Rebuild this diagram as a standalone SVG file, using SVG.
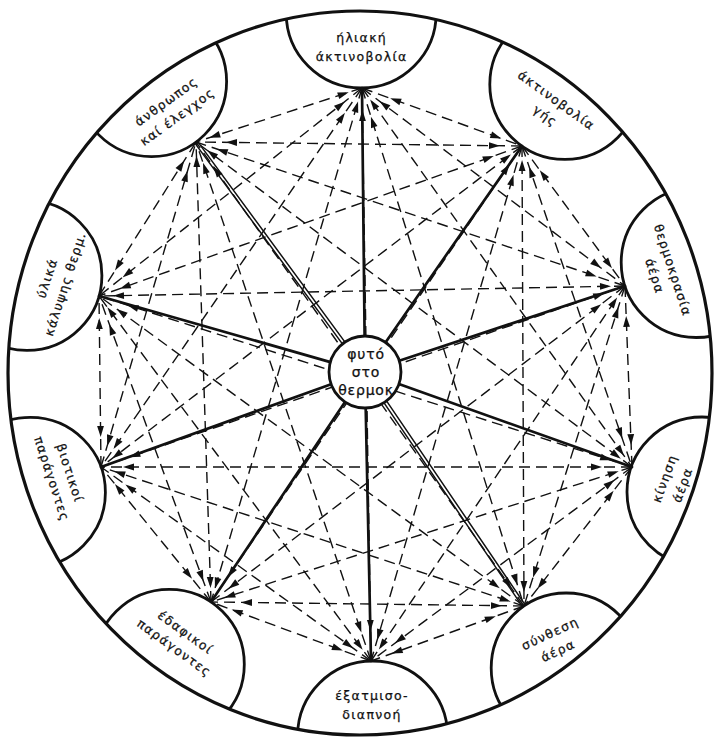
<svg xmlns="http://www.w3.org/2000/svg" width="714" height="738" viewBox="0 0 714 738">
<style>
.bg{fill:#fff}
.outer{fill:none;stroke:#111;stroke-width:3.2}
.node{fill:#fff;stroke:#111;stroke-width:2.8}
.lbl{font-family:"DejaVu Sans","Noto Sans",sans-serif;font-size:12.5px;letter-spacing:1.3px;fill:#111;stroke:#111;stroke-width:0.25;text-anchor:middle}
.ctr{font-family:"DejaVu Sans","Noto Sans",sans-serif;font-size:14px;letter-spacing:0.8px;fill:#111;stroke:#111;stroke-width:0.25;text-anchor:middle}
.dash line{stroke:#111;stroke-width:1.4;stroke-dasharray:11 6;fill:none}
.x{marker-start:url(#m1);marker-end:url(#m1)}
.y{marker-start:url(#m2);marker-end:url(#m3)}
.z{marker-start:url(#m3);marker-end:url(#m2)}
.solid line{stroke:#111;stroke-width:2.7;stroke-linecap:round}
.solid line.thin{stroke-width:1.5}
</style>
<defs>
<clipPath id="clip"><ellipse cx="360" cy="373" rx="352" ry="362"/></clipPath>
<marker id="m1" markerUnits="userSpaceOnUse" orient="auto-start-reverse" refX="14" refY="0" markerWidth="20" markerHeight="20" overflow="visible"><path d="M0,0 L-11,-3.4 L-11,3.4 Z" fill="#111"/></marker>
<marker id="m2" markerUnits="userSpaceOnUse" orient="auto-start-reverse" refX="22" refY="0" markerWidth="20" markerHeight="20" overflow="visible"><path d="M0,0 L-11,-3.4 L-11,3.4 Z" fill="#111"/></marker>
<marker id="m3" markerUnits="userSpaceOnUse" orient="auto-start-reverse" refX="30" refY="0" markerWidth="20" markerHeight="20" overflow="visible"><path d="M0,0 L-11,-3.4 L-11,3.4 Z" fill="#111"/></marker>
</defs>
<rect class="bg" x="0" y="0" width="714" height="738"/>

<g id="n0"><circle class="node" cx="361.2" cy="13" r="75" clip-path="url(#clip)"/>
<text class="lbl" transform="translate(361.6,47)"><tspan x="0" y="-5">ήλιακή</tspan><tspan x="0" y="14">άκτινοβολία</tspan></text></g>
<g id="n1"><circle class="node" cx="564.8" cy="84.4" r="75" clip-path="url(#clip)"/>
<text class="lbl" transform="translate(551,108) rotate(36)"><tspan x="0" y="-5">άκτινοβολία</tspan><tspan x="0" y="14">γής</tspan></text></g>
<g id="n2"><circle class="node" cx="696.2" cy="262.5" r="75" clip-path="url(#clip)"/>
<text class="lbl" transform="translate(663.9,273.2) rotate(72)"><tspan x="0" y="-5">θερμοκρασία</tspan><tspan x="0" y="14">άέρα</tspan></text></g>
<g id="n3"><circle class="node" cx="702" cy="492" r="75" clip-path="url(#clip)"/>
<text class="lbl" transform="translate(673.5,481.7) rotate(-70)"><tspan x="0" y="-5">κίνηση</tspan><tspan x="0" y="14">άέρα</tspan></text></g>
<g id="n4"><circle class="node" cx="566.2" cy="668" r="75" clip-path="url(#clip)"/>
<text class="lbl" transform="translate(554,642) rotate(-25)"><tspan x="0" y="-5">σύνθεση</tspan><tspan x="0" y="14">άέρα</tspan></text></g>
<g id="n5"><circle class="node" cx="372.6" cy="736" r="75" clip-path="url(#clip)"/>
<text class="lbl" transform="translate(372,705)"><tspan x="0" y="-5">έξατμισο-</tspan><tspan x="0" y="14">διαπνοή</tspan></text></g>
<g id="n6"><circle class="node" cx="169.3" cy="664.3" r="75" clip-path="url(#clip)"/>
<text class="lbl" transform="translate(180,640) rotate(36)"><tspan x="0" y="-5">έδαφικοί</tspan><tspan x="0" y="14">παράγοντες</tspan></text></g>
<g id="n7"><circle class="node" cx="30.4" cy="492.4" r="75" clip-path="url(#clip)"/>
<text class="lbl" transform="translate(61,476) rotate(72)"><tspan x="0" y="-5">βιοτικοί</tspan><tspan x="0" y="14">παράγοντες</tspan></text></g>
<g id="n8"><circle class="node" cx="26.9" cy="275.4" r="75" clip-path="url(#clip)"/>
<text class="lbl" transform="translate(56,281) rotate(-72)"><tspan x="0" y="-5">ύλικά</tspan><tspan x="0" y="14">κάλυψης θερμ.</tspan></text></g>
<g id="n9"><circle class="node" cx="151.6" cy="81.6" r="75" clip-path="url(#clip)"/>
<text class="lbl" transform="translate(171.7,109) rotate(-36)"><tspan x="0" y="-5">άνθρωπος</tspan><tspan x="0" y="14">καί έλεγχος</tspan></text></g>

<ellipse class="outer" cx="360" cy="373" rx="352" ry="362"/>

<g id="connectors">
<g class="dash">
<line class="z" x1="362" y1="88" x2="522" y2="146"/>
<line class="y" x1="362" y1="88" x2="625" y2="286"/>
<line class="x" x1="362" y1="88" x2="632" y2="467"/>
<line class="z" x1="362" y1="88" x2="524" y2="606"/>
<line class="y" x1="362" y1="88" x2="371" y2="661"/>
<line class="x" x1="362" y1="88" x2="211" y2="602"/>
<line class="z" x1="362" y1="88" x2="101" y2="467"/>
<line class="y" x1="362" y1="88" x2="99" y2="296"/>
<line class="x" x1="362" y1="88" x2="196" y2="142"/>
<line class="z" x1="522" y1="146" x2="625" y2="286"/>
<line class="y" x1="522" y1="146" x2="632" y2="467"/>
<line class="x" x1="522" y1="146" x2="524" y2="606"/>
<line class="z" x1="522" y1="146" x2="371" y2="661"/>
<line class="y" x1="522" y1="146" x2="211" y2="602"/>
<line class="x" x1="522" y1="146" x2="101" y2="467"/>
<line class="z" x1="522" y1="146" x2="99" y2="296"/>
<line class="y" x1="522" y1="146" x2="196" y2="142"/>
<line class="z" x1="625" y1="286" x2="632" y2="467"/>
<line class="y" x1="625" y1="286" x2="524" y2="606"/>
<line class="x" x1="625" y1="286" x2="371" y2="661"/>
<line class="z" x1="625" y1="286" x2="211" y2="602"/>
<line class="y" x1="625" y1="286" x2="101" y2="467"/>
<line class="x" x1="625" y1="286" x2="99" y2="296"/>
<line class="z" x1="625" y1="286" x2="196" y2="142"/>
<line class="z" x1="632" y1="467" x2="524" y2="606"/>
<line class="y" x1="632" y1="467" x2="371" y2="661"/>
<line class="x" x1="632" y1="467" x2="211" y2="602"/>
<line class="z" x1="632" y1="467" x2="101" y2="467"/>
<line class="y" x1="632" y1="467" x2="99" y2="296"/>
<line class="x" x1="632" y1="467" x2="196" y2="142"/>
<line class="z" x1="524" y1="606" x2="371" y2="661"/>
<line class="y" x1="524" y1="606" x2="211" y2="602"/>
<line class="x" x1="524" y1="606" x2="101" y2="467"/>
<line class="z" x1="524" y1="606" x2="99" y2="296"/>
<line class="y" x1="524" y1="606" x2="196" y2="142"/>
<line class="z" x1="371" y1="661" x2="211" y2="602"/>
<line class="y" x1="371" y1="661" x2="101" y2="467"/>
<line class="x" x1="371" y1="661" x2="99" y2="296"/>
<line class="z" x1="371" y1="661" x2="196" y2="142"/>
<line class="z" x1="211" y1="602" x2="101" y2="467"/>
<line class="y" x1="211" y1="602" x2="99" y2="296"/>
<line class="x" x1="211" y1="602" x2="196" y2="142"/>
<line class="z" x1="101" y1="467" x2="99" y2="296"/>
<line class="y" x1="101" y1="467" x2="196" y2="142"/>
<line class="z" x1="99" y1="296" x2="196" y2="142"/>
</g>
<g class="solid">
<line x1="364.6" y1="336" x2="362" y2="88"/>
<line x1="385.5" y1="342.4" x2="522" y2="146"/>
<line x1="399.2" y1="360.7" x2="625" y2="286"/>
<line x1="398.9" y1="384.1" x2="632" y2="467"/>
<line class="thin" x1="386.5" y1="400.9" x2="525.3" y2="605.1"/>
<line class="thin" x1="383.9" y1="402.7" x2="522.7" y2="606.9"/>
<line x1="365.7" y1="408" x2="371" y2="661"/>
<line x1="345" y1="401.9" x2="211" y2="602"/>
<line x1="331.1" y1="384.2" x2="101" y2="467"/>
<line x1="330.4" y1="362.1" x2="99" y2="296"/>
<line class="thin" x1="345" y1="342.1" x2="197.3" y2="141.1"/>
<line class="thin" x1="342.4" y1="343.9" x2="194.7" y2="142.9"/>
</g>
</g>

<g id="center"><circle class="node" cx="365" cy="372" r="36"/>
<text class="ctr"><tspan x="366" y="359">φυτό</tspan><tspan x="366" y="377">στο</tspan><tspan x="366" y="395">θερμοκ</tspan></text></g>
</svg>
